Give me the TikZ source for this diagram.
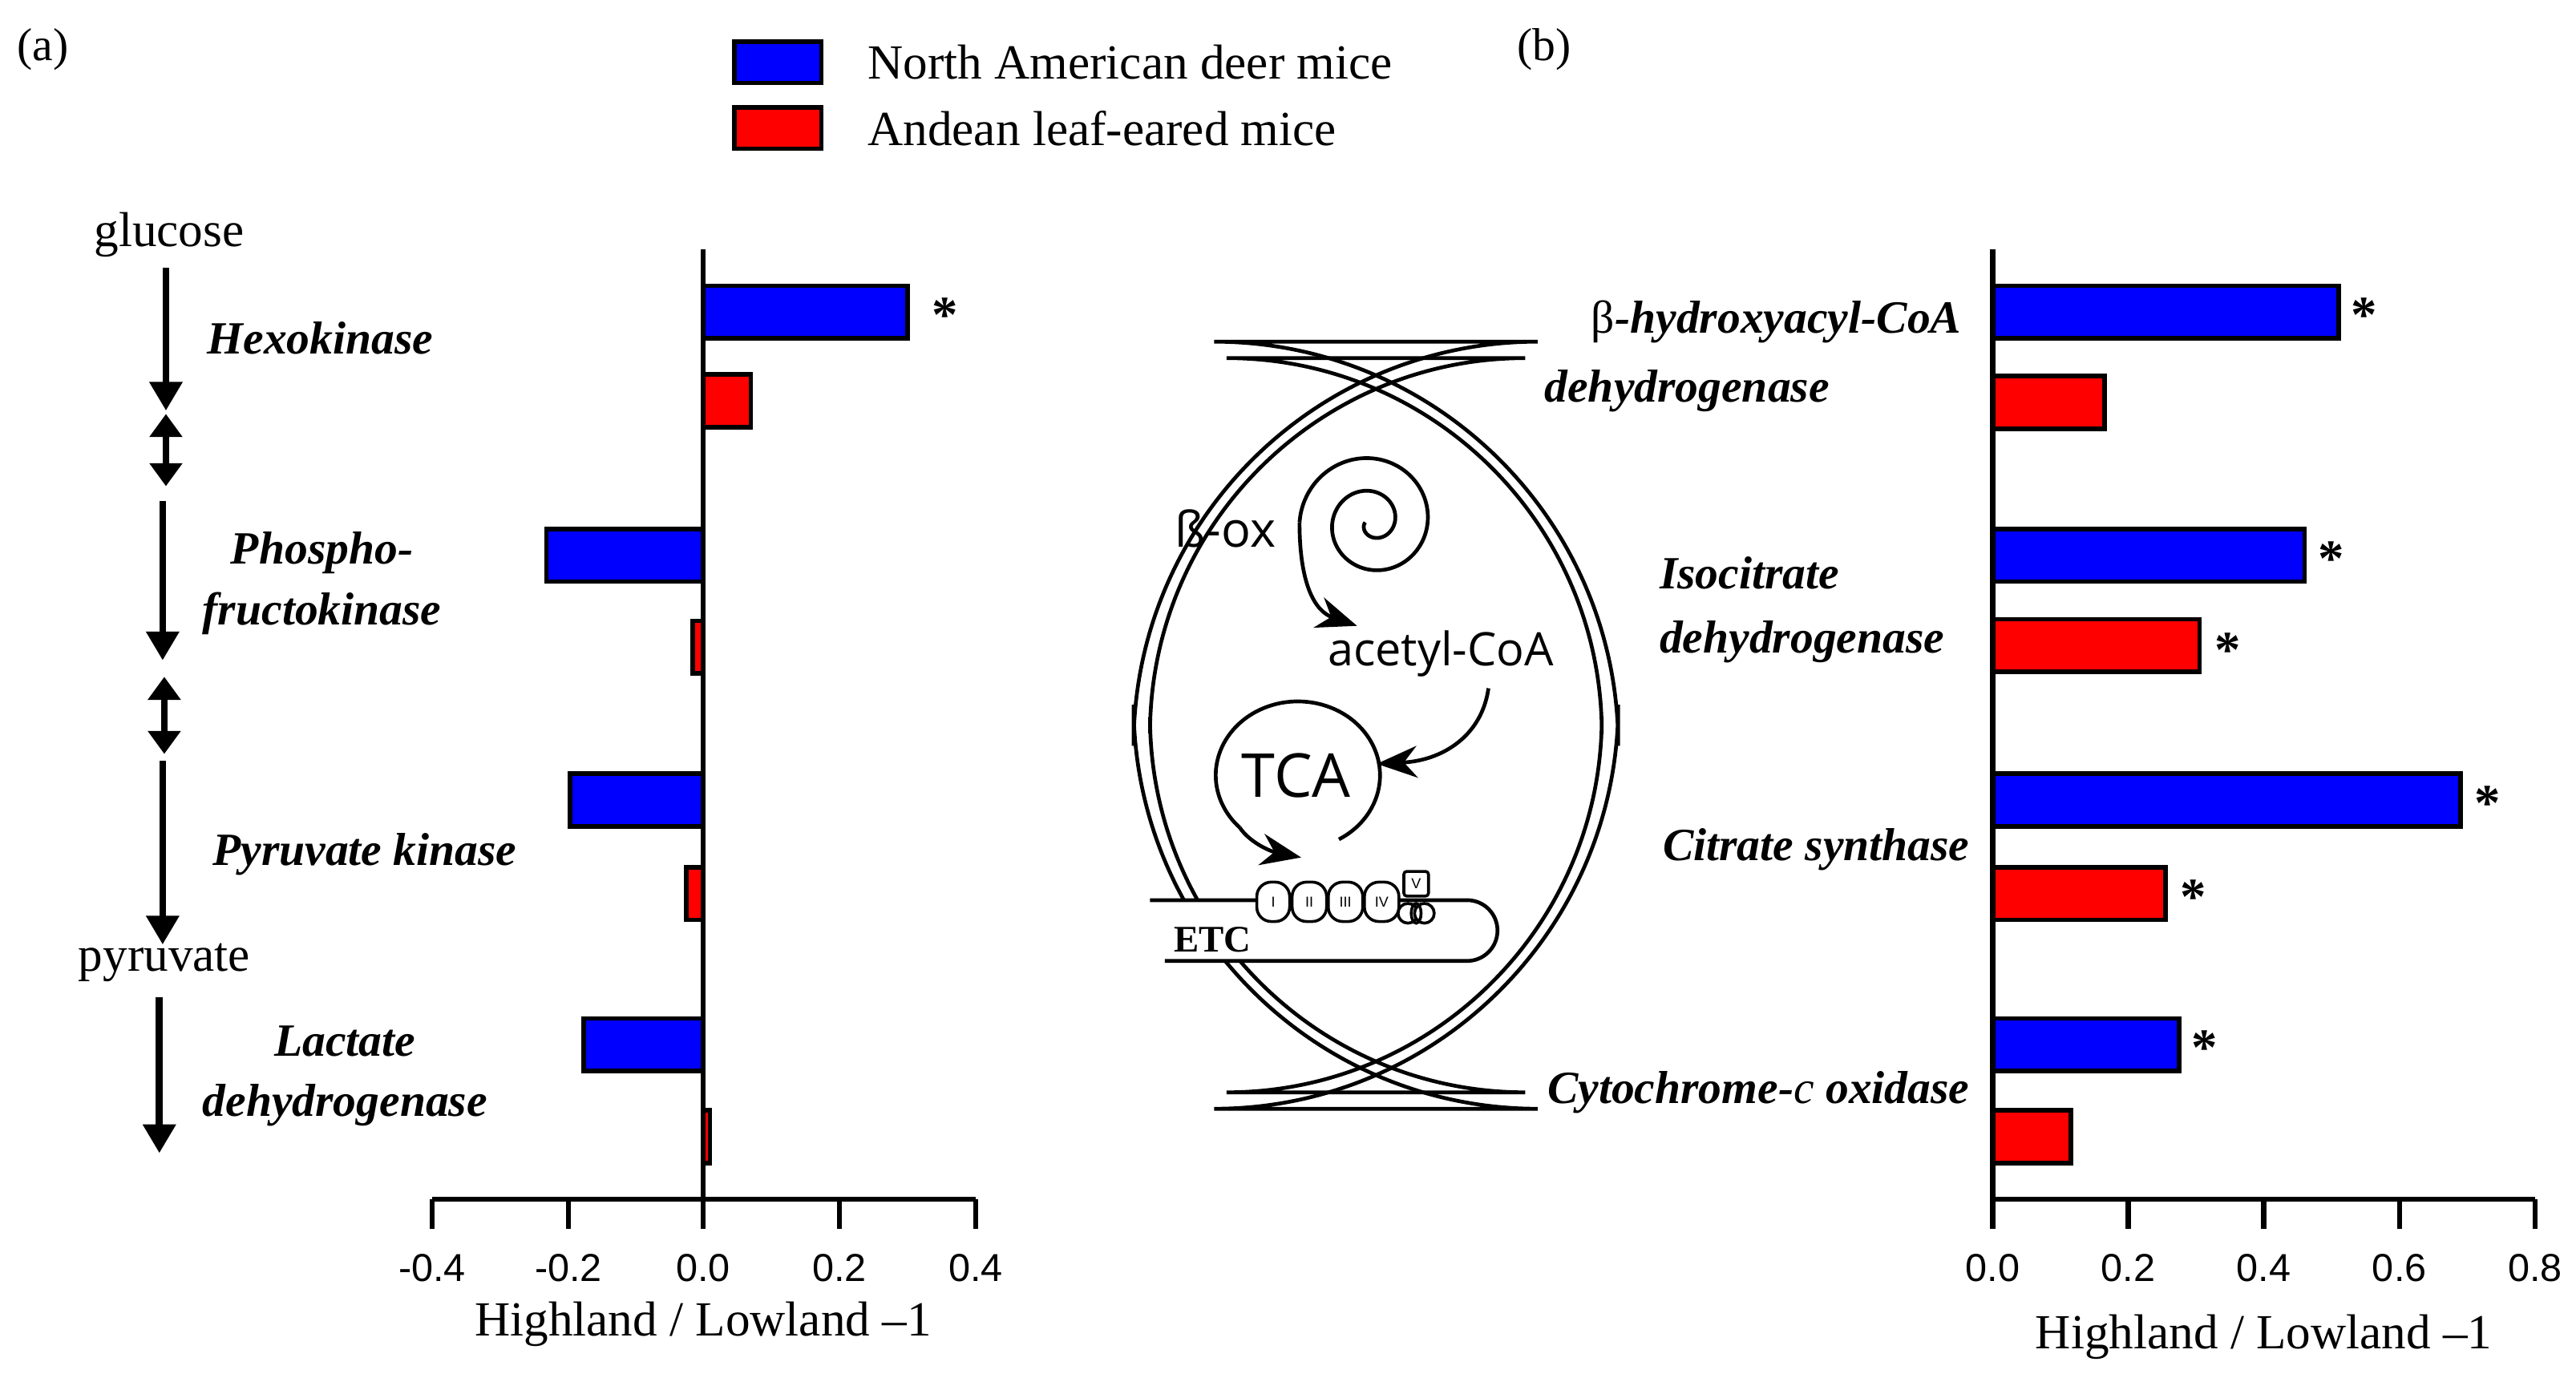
\documentclass[tikz,border=0pt]{standalone}
\usepackage{fontspec}
\setmainfont{Liberation Serif}
\newfontfamily\ticksf{Liberation Sans}
\newfontfamily\mitosf{Open Sans}
\usetikzlibrary{arrows.meta}
\begin{document}
\begin{tikzpicture}[x=0.02cm,y=-0.02cm,
  blue bar/.style={draw=black,line width=1.6pt,fill=blue},
  red bar/.style={draw=black,line width=1.6pt,fill=red},
  axis/.style={line width=1.8pt},
  lab/.style={font=\fontsize{16}{19}\selectfont\bfseries\itshape},
  tick/.style={font=\ticksf\fontsize{13.5}{16}\selectfont},
  star/.style={font=\fontsize{18}{20}\selectfont\bfseries},
  path arr/.style={line width=2.4pt,-{Triangle[length=10pt,width=11pt]}},
  dbl arr/.style={line width=2.4pt,{Triangle[length=8pt,width=11pt]}-{Triangle[length=8pt,width=11pt]}},
  mito/.style={line width=1.3pt},
  marr/.style={line width=1.3pt,-{Stealth[length=14pt,width=11pt]}},
  cplx/.style={draw,line width=1pt,rounded corners=5pt,fill=white,font=\ticksf\fontsize{5}{6}\selectfont,inner sep=0pt}]
\useasboundingbox (0,0) rectangle (1568,846);
% panel labels
\node (pa) at (26,30) {\fontsize{16}{19}\selectfont (a)};
\node (pb) at (940,30) {\fontsize{16}{19}\selectfont (b)};
% legend
\node[blue bar,inner sep=0,minimum width=1.06cm,minimum height=0.5cm] (lb) at (473.5,38) {};
\node[red bar,inner sep=0,minimum width=1.06cm,minimum height=0.5cm] (lr) at (473.5,78) {};
\node[anchor=west,font=\fontsize{17}{20}\selectfont] (tb) at (522,38) {North American deer mice};
\node[anchor=west,font=\fontsize{17}{20}\selectfont] (tr) at (522,78) {Andean leaf-eared mice};
% ---------- left chart (origin x=428, 415 per unit)
\foreach \c/\v/\s in {190/0.30/blue,338/-0.23/blue,487/-0.195/blue,636/-0.175/blue,244/0.07/red,394/-0.015/red,544/-0.025/red,692/0.01/red}{
  \draw[\s\space bar] (428,\c-16) rectangle (428+415*\v,\c+16);
}
\draw[axis] (428,152) -- (428,730);
\draw[axis] (263,730) -- (594,730);
\foreach \t/\l in {263/-0.4,346/-0.2,428/0.0,511/0.2,594/0.4}{
  \draw[axis] (\t,730) -- (\t,748);
  \node[tick] at (\t,772) {\l};
}
\node[font=\fontsize{17}{20}\selectfont] (xl) at (428,806) {Highland / Lowland \textendash 1};
\node[star] (s1) at (575,192) {*};
% pathway
\node[font=\fontsize{17}{20}\selectfont] (glu) at (103,143) {glucose};
\node[font=\fontsize{17}{20}\selectfont] (pyr) at (100,586) {pyruvate};
\coordinate (a1s) at (101,163); \coordinate (a1e) at (101,250);
\coordinate (d1s) at (101,252); \coordinate (d1e) at (101,296);
\coordinate (a2s) at (99,305); \coordinate (a2e) at (99,402);
\coordinate (d2s) at (100,412); \coordinate (d2e) at (100,459);
\coordinate (a3s) at (99,463); \coordinate (a3e) at (99,575);
\coordinate (a4s) at (97,607); \coordinate (a4e) at (97,702);
\draw[path arr] (a1s) -- (a1e);
\draw[dbl arr] (d1s) -- (d1e);
\draw[path arr] (a2s) -- (a2e);
\draw[dbl arr] (d2s) -- (d2e);
\draw[path arr] (a3s) -- (a3e);
\draw[path arr] (a4s) -- (a4e);
\node[lab] (hk) at (195,206) {Hexokinase};
\node[lab,align=center] (pfk) at (196,355) {Phospho-\\[2pt]fructokinase};
\node[lab] (pk) at (222,520) {Pyruvate kinase};
\node[lab,align=center] (ldh) at (210,655) {Lactate\\[2pt]dehydrogenase};
% ---------- right chart (origin x=1213, 412.5 per unit)
\foreach \c/\v/\s in {190/0.51/blue,338/0.46/blue,487/0.69/blue,636/0.275/blue,245/0.165/red,393/0.305/red,544/0.255/red,692/0.115/red}{
  \draw[\s\space bar] (1213,\c-16) rectangle (1213+412.5*\v,\c+16);
}
\draw[axis] (1213,152) -- (1213,730);
\draw[axis] (1213,730) -- (1543,730);
\foreach \t/\l in {1213/0.0,1295.5/0.2,1378/0.4,1460.5/0.6,1543/0.8}{
  \draw[axis] (\t,730) -- (\t,748);
  \node[tick] at (\t,772) {\l};
}
\node[font=\fontsize{17}{20}\selectfont] (xr) at (1378,814) {Highland / Lowland \textendash 1};
\node[star] (r1) at (1439,192) {*};
\node[star] (r2) at (1419,340) {*};
\node[star] (r3) at (1356,396) {*};
\node[star] (r4) at (1514,489) {*};
\node[star] (r5) at (1335,546) {*};
\node[star] (r6) at (1342,638) {*};
\node[lab,anchor=east] (bh1) at (1200,196) {{\upshape\mdseries β}-hydroxyacyl-CoA};
\node[lab,anchor=west] (bh2) at (934,238) {dehydrogenase};
\node[lab,anchor=west] (ic1) at (1004,349) {Isocitrate};
\node[lab,anchor=west] (ic2) at (1004,391) {dehydrogenase};
\node[lab,anchor=east] (cs) at (1205,517) {Citrate synthase};
\node[lab,anchor=east] (cox) at (1205,665) {Cytochrome-{\mdseries c} oxidase};
% ---------- mitochondrion
\draw[mito,rounded corners=140] (690,208) rectangle (985,675);
\draw[mito,rounded corners=130] (700,218) rectangle (975,665);
\fill[white] (697,548) -- (893,548) arc[start angle=-90,end angle=90,radius=18.5] -- (706,585) -- cycle;
\draw[mito] (700,548) -- (893,548) arc[start angle=-90,end angle=90,radius=18.5] -- (709,585);
\node[font=\bfseries\fontsize{13}{15}\selectfont] (etc) at (738,572) {ETC};
\node[cplx,minimum width=0.4cm,minimum height=0.48cm] (c1) at (775,549) {I};
\node[cplx,minimum width=0.42cm,minimum height=0.48cm] (c2) at (797,549) {II};
\node[cplx,minimum width=0.42cm,minimum height=0.48cm] (c3) at (819,549) {III};
\node[cplx,minimum width=0.42cm,minimum height=0.48cm] (c4) at (841,549) {IV};
\node[cplx,rounded corners=1pt,minimum width=0.3cm,minimum height=0.3cm] (c5) at (862,538) {V};
\draw[line width=1pt,fill=white] (857,556) circle[radius=6];
\draw[line width=1pt,fill=white] (867,556) circle[radius=6];
\draw[line width=1pt] (862,556) circle[x radius=3,y radius=6];
% beta-ox
\node[font=\mitosf\fontsize{17}{20}\selectfont] (box) at (746,322) {ß-ox};
\begin{scope}[shift={(835,318)}]
\draw[mito,domain=180:900,samples=120,smooth] plot ({(4+(\x-180)/18)*cos(\x)},{-(4+(\x-180)/18)*sin(\x)});
\end{scope}
\coordinate (sp) at (791,318);
\node[font=\mitosf\fontsize{16}{19}\selectfont] (acoa) at (877,398) {acetyl-CoA};
\draw[marr] (sp) .. controls (791,355) and (800,372) .. (826,381);
\coordinate (ac1) at (906,419);
\node[font=\mitosf\fontsize{21}{24}\selectfont] (tca) at (789,472) {TCA};
\draw[marr] (ac1) .. controls (902,448) and (878,463) .. (838,465);
\draw[mito] (790,472) ++(60:50 and 45) arc[start angle=60,end angle=-225,x radius=50,y radius=45] coordinate (tl);
\draw[marr] (tl) .. controls (760,512) and (772,518) .. (792,522);
\end{tikzpicture}
\end{document}
